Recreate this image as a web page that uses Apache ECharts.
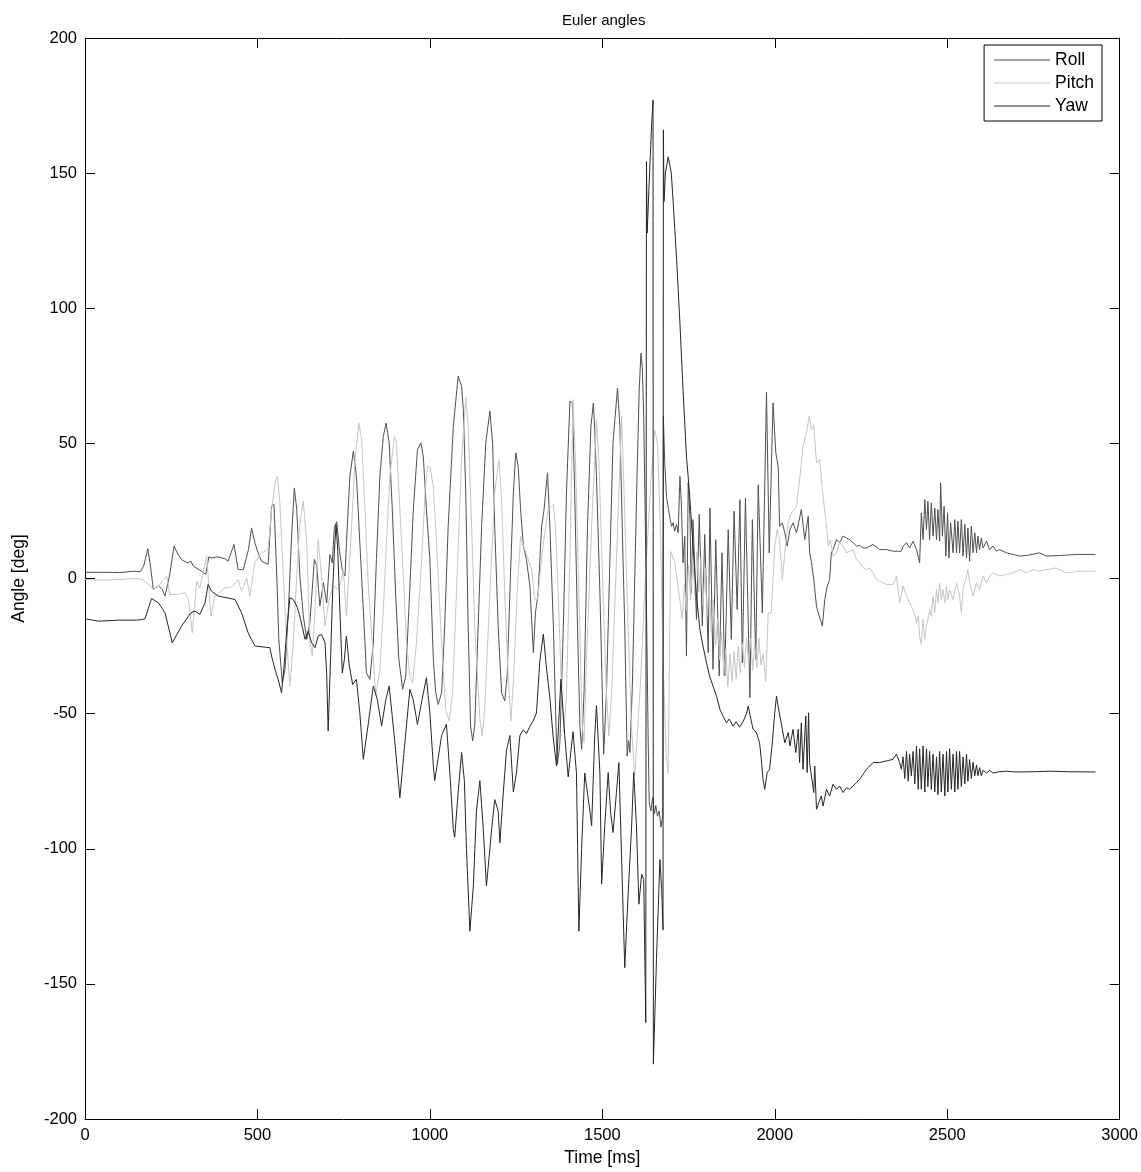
<!DOCTYPE html>
<html>
<head>
<meta charset="utf-8">
<script src="https://cdn.jsdelivr.net/npm/echarts@6/dist/echarts.min.js"></script>
<style>html,body{margin:0;padding:0;background:#fff}#c{width:1141px;height:1172px}</style>
</head>
<body>
<div id="c"></div>
<script>
const titleText = 'Euler angles';
const xName = 'Time [ms]';
const yName = 'Angle [deg]';
const seriesNames = ['Roll', 'Pitch', 'Yaw'];

const rollData = [[0,2.3],[50,2.3],[100,2.2],[140,2.7],[160,2.5],[170,4.6],[182,11],[190,4.6],[198,-4.1],[213,-2.6],[224,-4.1],[232,-6.5],[245,0.9],[258,11.9],[270,8.9],[280,7],[297,5.8],[307,6.4],[314,4.6],[319,3.9],[338,2.7],[350,1.5],[359,8],[367,7.6],[386,8],[406,7.3],[415,6.4],[432,12.6],[444,3.3],[459,3.3],[474,10.7],[483,18.7],[493,13],[502,9.5],[512,6.4],[531,5.2],[541,26.7],[548,27.4],[556,0.9],[562,-22.5],[572,-38.6],[580,-33.6],[589,-13.9],[599,15.7],[607,33.5],[614,25.5],[623,0.9],[633,-13.9],[643,-22.5],[652,-16.4],[665,7],[672,4.6],[681,-10.2],[691,-1.6],[701,-9],[710,8.9],[717,5.8],[723,19],[730,21],[738,10],[746,3.3],[754,0.9],[758,13],[768,37.8],[778,47.1],[787,37.8],[797,13],[807,-11.5],[816,-34.9],[826,-37.3],[836,-23.8],[845,7],[855,37.8],[865,52.6],[873,57.5],[882,50.2],[891,25.5],[901,-6.5],[910,-29.9],[921,-41],[930,-36.1],[939,-11.5],[952,25.5],[964,47.7],[974,50.2],[981,45],[990,25.5],[1000,7],[1010,-30],[1017,-42.3],[1024,-46.6],[1034,-42.3],[1043,-17.6],[1053,19.3],[1068,56.3],[1082,74.8],[1092,71.1],[1097,62.5],[1104,31.7],[1111,-17.6],[1118,-54.6],[1124,-60.1],[1130,-54.6],[1140,-17.6],[1150,19.3],[1162,50.2],[1174,61.9],[1182,50.2],[1188,19.3],[1198,-17.6],[1208,-42.3],[1217,-45.3],[1224,-36.1],[1232,-5.3],[1242,31.7],[1249,46.5],[1256,41.5],[1263,25.5],[1271,12],[1280,7],[1290,-2.8],[1300,-27.5],[1306,-12.7],[1314,-5.3],[1324,19.3],[1331,25.5],[1341,39.1],[1348,19.3],[1358,-17.6],[1367,-60.8],[1370,-68.8],[1377,-60.8],[1387,-17.6],[1396,31.7],[1406,65.6],[1413,64.9],[1420,31.7],[1428,-17.6],[1435,-54.6],[1440,-63.2],[1447,-42.3],[1457,19.3],[1467,56.3],[1474,64.9],[1478,55.1],[1483,37.8],[1493,-5.3],[1500,-42.3],[1504,-65],[1512,-42.3],[1522,7],[1531,50.2],[1544,70.5],[1551,56.3],[1560,7],[1565,-17.6],[1572,-65.7],[1576,-60],[1580,-64.4],[1587,-40],[1594,0],[1601,40],[1607,70],[1612,83.4],[1616,78],[1620,60],[1627,0],[1633,-60],[1636,-83],[1641,-86],[1646,-81],[1651,-87],[1655,-84],[1660,-88],[1665,-86],[1670,-92],[1675,-88],[1677,60],[1681,42.7],[1686,30.4],[1695,23],[1701,19.3],[1705,20.6],[1710,17.5],[1715,20],[1720,16.9],[1725,37.8],[1729,28],[1734,5.8],[1739,15.6],[1744,-28.7],[1749,35.4],[1754,23],[1758,-5.3],[1763,21.8],[1773,-15.2],[1781,23.7],[1790,-17.6],[1797,16.3],[1807,-27.5],[1812,26.1],[1821,-33.6],[1829,14.4],[1839,-36.1],[1847,9.5],[1855,-36.1],[1865,18.1],[1874,-22.5],[1882,24.9],[1891,-11.5],[1899,29.2],[1906,-31.2],[1915,29.8],[1928,-44.1],[1935,21.8],[1945,-29.9],[1952,34.7],[1964,-12.7],[1976,69],[1984,9.5],[1995,65],[2003,46.5],[2010,41.5],[2014,19.3],[2022,20.6],[2029,16.9],[2036,12],[2044,18.1],[2053,20.6],[2063,16.9],[2077,25.5],[2087,14.4],[2097,23],[2101,9.5],[2106,6.4],[2113,-0.4],[2121,-10.2],[2126,-12.7],[2132,-15.2],[2138,-17.6],[2145,-7.8],[2152,-2.8],[2159,-0.4],[2164,9.5],[2169,10.7],[2179,14.4],[2188,13.2],[2198,15.7],[2208,15],[2217,14.4],[2227,13.2],[2237,12],[2246,12.3],[2256,11.3],[2266,11.3],[2285,12.6],[2304,10.7],[2324,10.7],[2343,10.1],[2367,10.1],[2372,12],[2382,13.2],[2391,11.3],[2401,13.8],[2411,10.7],[2420,5.8],[2425,24.3],[2430,14.4],[2435,29.2],[2440,18.1],[2444,28.6],[2449,14.4],[2454,28],[2459,15.7],[2464,26.1],[2469,14.4],[2473,25.5],[2478,13.8],[2481,35.4],[2486,15.7],[2491,26.7],[2496,8.3],[2501,24.3],[2505,7.6],[2510,20.6],[2517,9.5],[2522,21.8],[2527,9.5],[2531,21.2],[2536,9.5],[2541,21.8],[2546,8.3],[2551,20],[2556,7.6],[2560,18.7],[2565,6.4],[2570,19.4],[2575,9.5],[2580,16.9],[2585,9.5],[2589,15.7],[2594,10.7],[2599,15],[2604,11.3],[2614,13.8],[2623,10.7],[2633,12],[2643,10.1],[2652,10.7],[2672,9.5],[2691,8.9],[2710,8.3],[2730,8.5],[2768,9.5],[2787,8.3],[2826,8.5],[2874,8.9],[2930,8.9]];

const pitchData = [[0,-0.4],[50,-0.6],[100,-0.4],[130,-0.1],[155,0],[169,-0.6],[184,-2.2],[198,-4.1],[217,-2.2],[237,0.9],[246,-5.9],[266,-5.9],[290,-5.3],[300,-7.8],[311,-20.1],[324,-1],[333,-3.5],[353,8.3],[365,-13.9],[377,-6.5],[406,-3.5],[425,-3.1],[444,-0.4],[454,-4.7],[469,0.2],[478,-6.5],[493,6],[512,9.5],[531,10.7],[541,25.5],[553,36.6],[558,37.8],[565,28],[575,0.9],[585,-23.8],[594,-39.8],[604,-23.8],[614,0.9],[623,20.6],[633,28.6],[643,13.2],[652,-23.8],[659,-28.7],[667,-11.5],[676,14.4],[686,0.9],[696,-17.6],[707,-8.4],[720,-2.8],[732,-4],[742,-1.6],[749,3.3],[758,-13.9],[773,19.3],[783,44],[794,57.5],[802,51.4],[812,25.5],[821,-1.6],[833,-23.8],[843,-43.5],[855,-33.6],[865,-11.5],[874,13.2],[884,37.8],[897,52.6],[903,50.2],[913,25.5],[923,0.9],[932,-23.8],[942,-36.1],[950,-38.6],[961,-23.8],[976,7],[986,31.7],[993,41.5],[1000,41.5],[1010,34.1],[1019,13.2],[1034,-23.8],[1046,-48.4],[1056,-52.7],[1066,-42.3],[1077,-5.3],[1092,44],[1104,66.8],[1111,56.3],[1121,19.3],[1130,-17.6],[1145,-52.1],[1152,-58.3],[1159,-48.4],[1174,-5.3],[1188,31.7],[1200,44],[1208,29.2],[1217,-5.3],[1227,-36.1],[1235,-52.7],[1243,-36.1],[1253,-5.3],[1263,15.6],[1271,12],[1280,9],[1295,3.3],[1304,-7.8],[1312,-7.8],[1319,0.9],[1329,13.2],[1343,25.5],[1358,27.4],[1364,19.3],[1372,-5.3],[1382,-42.3],[1389,-57],[1396,-42.3],[1406,7],[1415,66.2],[1422,44],[1432,-5.3],[1442,-54.6],[1447,-60.8],[1454,-29.9],[1469,19.3],[1483,58.8],[1490,44],[1502,-5.3],[1512,-42.3],[1519,-58.3],[1527,-42.3],[1541,7],[1556,60],[1563,31.7],[1575,-18.9],[1585,-55.8],[1594,-73],[1610,-40],[1625,0],[1640,35],[1652,55],[1660,50],[1668,20],[1676,-30],[1685,-65],[1691,-72],[1698,10],[1710,6],[1725,-8],[1732,-15],[1738,-2],[1744,-12],[1750,5],[1756,-8],[1762,8],[1768,-6],[1774,10],[1780,-5],[1786,8],[1792,-10],[1798,4],[1804,-14],[1810,-2],[1816,-20],[1822,-8],[1828,-25],[1834,-15],[1840,-30],[1846,-20],[1852,-36],[1858,-26],[1864,-40],[1870,-28],[1876,-38],[1882,-27],[1888,-37],[1894,-25],[1900,-35],[1906,-24],[1912,-33],[1918,-22],[1924,-31],[1930,-22],[1936,-34],[1942,-24],[1948,-33],[1954,-22],[1960,-32],[1966,-28],[1974,-38],[1981,-12.7],[1990,-12.7],[2000,11.9],[2007,18.1],[2014,14.4],[2022,-0.4],[2029,9.5],[2039,20.6],[2048,24.3],[2063,26.7],[2072,36.6],[2082,48.9],[2092,53.9],[2100,60],[2106,55.1],[2113,56.9],[2121,42.8],[2130,44],[2140,30.4],[2150,19.3],[2155,11.9],[2161,14.4],[2169,8.3],[2179,9.5],[2188,13.2],[2198,12],[2208,9.5],[2227,10.7],[2237,7],[2246,6],[2256,4],[2266,3.3],[2275,3.9],[2285,2.1],[2295,-0.4],[2304,-1],[2324,-2.2],[2343,-2.2],[2353,0.9],[2362,-9],[2372,-2.8],[2382,-6.5],[2391,-9],[2401,-11.5],[2411,-16.4],[2416,-13.9],[2420,-21.3],[2425,-24.4],[2430,-15.2],[2435,-22.5],[2440,-17.6],[2444,-15.2],[2449,-11.5],[2454,-13.9],[2459,-6.5],[2464,-12.7],[2469,-4],[2473,-9],[2478,-1.6],[2483,-7.8],[2488,-4],[2493,-9],[2498,-2.8],[2502,-7.8],[2507,-4],[2517,-7.8],[2527,-1.6],[2536,-6.5],[2541,-12.7],[2546,-4],[2556,0.9],[2560,3.3],[2565,-1.6],[2575,-6.5],[2585,-1.6],[2594,-4],[2604,0.9],[2614,-1.6],[2623,0.9],[2633,2.1],[2652,0.9],[2672,1.5],[2691,2.1],[2710,3.3],[2730,2.1],[2749,3.3],[2768,2.7],[2787,3.3],[2816,3.9],[2845,2.1],[2884,2.7],[2930,2.7]];

const yawData = [[0,-14.9],[40,-15.8],[100,-15.4],[150,-15.4],[164,-15.2],[174,-14.9],[193,-7.4],[213,-9],[232,-12.7],[253,-23.8],[280,-17.6],[307,-12.7],[319,-12.1],[333,-13.3],[348,-9],[357,-2.2],[367,-4.7],[386,-6.5],[415,-7.2],[435,-7.8],[454,-12.7],[473,-20.1],[483,-22.6],[493,-25],[522,-25.4],[536,-25.6],[541,-28.7],[551,-33.6],[560,-37.3],[570,-42.3],[578,-31.2],[585,-18.9],[594,-7.1],[604,-7.8],[614,-10.2],[623,-13.9],[638,-22.5],[647,-19.5],[657,-23.8],[667,-25.6],[676,-21.3],[686,-20.7],[696,-23.8],[701,-36.1],[705,-56.4],[712,-30],[718,-5],[723,10],[728,20],[733,10],[740,-15],[746,-35],[752,-30],[758,-21.3],[766,-32],[776,-39.2],[787,-37.3],[797,-50],[807,-66.9],[820,-55],[836,-39.8],[848,-45],[860,-54.6],[872,-45],[882,-39.8],[898,-60],[913,-81.1],[928,-60],[942,-41],[952,-45],[964,-54],[977,-45],[990,-36.7],[1000,-49.8],[1010,-69.3],[1014,-74.8],[1024,-66.5],[1034,-58.1],[1048,-53.9],[1058,-72],[1068,-92.9],[1072,-95.7],[1082,-79],[1092,-64.4],[1100,-74.8],[1106,-99.9],[1116,-130.5],[1126,-113.8],[1135,-86],[1145,-74.8],[1155,-92.9],[1164,-113.8],[1169,-113.8],[1179,-92.9],[1188,-81.8],[1198,-86],[1203,-97.8],[1213,-79],[1222,-63.7],[1232,-58.1],[1242,-79],[1251,-72],[1261,-58.1],[1271,-56],[1280,-57.4],[1290,-54.7],[1300,-52.6],[1309,-49.8],[1319,-30.3],[1329,-20.6],[1338,-33.1],[1348,-44.2],[1357,-58.1],[1367,-69.3],[1380,-37.3],[1391,-58.1],[1401,-73.4],[1415,-56.7],[1425,-72],[1432,-130.5],[1440,-99.9],[1449,-72],[1454,-71.3],[1464,-86],[1469,-91.5],[1478,-58.1],[1483,-47],[1493,-72],[1498,-113.1],[1507,-91.6],[1517,-71.8],[1524,-86.6],[1531,-94],[1541,-79.2],[1548,-68.1],[1556,-103.9],[1565,-144],[1575,-116.2],[1585,-91.6],[1591,-71.8],[1599,-91.6],[1606,-120.5],[1614,-109.4],[1620,-111.3],[1626,-164.3],[1628,154.3],[1630,127.8],[1637,150],[1643,168],[1647,177.1],[1648,-179.7],[1657,-140.9],[1667,-104],[1672,-115],[1676,-130],[1677,166],[1679,139.5],[1683,150],[1691,156],[1700,150],[1705,140],[1715,119],[1725,94.5],[1734,70],[1744,45],[1752,33],[1763,12],[1773,-6.5],[1783,-19],[1792,-25],[1802,-31.2],[1811,-36.1],[1821,-39.8],[1831,-43.5],[1841,-48.4],[1850,-50.9],[1860,-53.4],[1868,-52],[1879,-54.6],[1888,-53],[1898,-55],[1908,-53],[1918,-50],[1923,-47.2],[1927,-49.7],[1937,-55.8],[1947,-57],[1956,-60.8],[1961,-66.9],[1966,-74.3],[1971,-78],[1978,-71.8],[1985,-70.6],[1992,-62],[2000,-49.7],[2005,-43.5],[2013,-49.7],[2022,-55.8],[2029,-60.8],[2039,-57],[2044,-62],[2053,-55.8],[2061,-64.4],[2068,-55.8],[2072,-68.1],[2077,-53.4],[2082,-70.6],[2090,-50.9],[2094,-71.8],[2098,-49.7],[2101,-68.1],[2106,-68.1],[2113,-79.2],[2116,-69.4],[2121,-85.4],[2128,-82.9],[2135,-80.5],[2140,-84.2],[2150,-78],[2159,-80.5],[2169,-76.1],[2179,-78],[2188,-76.8],[2198,-79.2],[2208,-77.4],[2217,-78],[2227,-76.8],[2237,-75.5],[2246,-74.3],[2266,-70.6],[2285,-68.1],[2304,-68.1],[2324,-67.5],[2343,-66.9],[2353,-65],[2362,-68.1],[2367,-70.6],[2372,-66],[2377,-74],[2382,-64],[2387,-75],[2391,-65],[2396,-73],[2401,-64],[2406,-76],[2411,-62],[2416,-78],[2420,-63],[2425,-78],[2430,-62],[2435,-79],[2440,-63],[2444,-77],[2449,-64],[2454,-78],[2459,-65],[2464,-79],[2469,-66],[2473,-80],[2478,-64],[2483,-79],[2488,-65],[2493,-80.5],[2498,-64],[2502,-79],[2507,-63],[2512,-78],[2517,-65],[2522,-79],[2527,-64],[2531,-78],[2536,-64],[2541,-77],[2546,-66],[2551,-76],[2556,-65],[2560,-75],[2565,-67],[2570,-74],[2575,-68],[2580,-73],[2585,-69],[2589,-73],[2594,-70],[2599,-73],[2604,-71],[2614,-72],[2623,-71],[2633,-72],[2652,-71.5],[2672,-71.3],[2700,-71.6],[2750,-71.5],[2800,-71.3],[2850,-71.5],[2930,-71.6]];

const xMin = 0, xMax = 3000, xStep = 500;
const yMin = -200, yMax = 200, yStep = 50;
const colors = ['#505050', '#c6c6c6', '#262626'];

const FONT = "'Liberation Sans', Arial, Helvetica, sans-serif";
const chart = echarts.init(document.getElementById('c'), null, {renderer: 'canvas'});

function axisBase(extra) {
  return Object.assign({
    type: 'value',
    axisLine: {show: true, onZero: false, lineStyle: {color: '#000', width: 1}},
    axisTick: {show: true, inside: true, length: 10, lineStyle: {color: '#000', width: 1}},
    splitLine: {show: false}
  }, extra);
}
const plainLabel = v => String(v);

const option = {
  animation: false,
  backgroundColor: '#fff',
  title: {
    text: titleText, left: 557, top: 8,
    textStyle: {fontSize: 15, fontWeight: 'normal', color: '#000', fontFamily: FONT}
  },
  grid: {left: 85, right: 21, top: 38, bottom: 52, containLabel: false},
  legend: {
    data: seriesNames, orient: 'vertical', right: 39, top: 45,
    icon: 'rect', itemWidth: 56, itemHeight: 1, itemGap: 5,
    padding: [6, 8, 6, 10],
    borderColor: '#000', borderWidth: 1, backgroundColor: '#fff',
    textStyle: {fontSize: 17.5, color: '#000', fontFamily: FONT, lineHeight: 18}
  },
  xAxis: [
    axisBase({min: xMin, max: xMax, interval: xStep, position: 'bottom',
      name: xName, nameLocation: 'middle', nameGap: 30,
      nameTextStyle: {fontSize: 17.5, color: '#000', fontFamily: FONT},
      axisLabel: {color: '#000', fontSize: 16.5, fontFamily: FONT, margin: 8, formatter: plainLabel}}),
    axisBase({min: xMin, max: xMax, interval: xStep, position: 'top', axisLabel: {show: false}})
  ],
  yAxis: [
    axisBase({min: yMin, max: yMax, interval: yStep, position: 'left',
      name: yName, nameLocation: 'middle', nameGap: 57, nameRotate: 90,
      nameTextStyle: {fontSize: 17.5, color: '#000', fontFamily: FONT},
      axisLabel: {color: '#000', fontSize: 16.5, fontFamily: FONT, margin: 8, formatter: plainLabel}}),
    axisBase({min: yMin, max: yMax, interval: yStep, position: 'right', axisLabel: {show: false}})
  ],
  series: [
    {name: seriesNames[0], type: 'line', data: rollData, color: colors[0]},
    {name: seriesNames[1], type: 'line', data: pitchData, color: colors[1]},
    {name: seriesNames[2], type: 'line', data: yawData, color: colors[2]}
  ].map(s => Object.assign(s, {
    xAxisIndex: 0, yAxisIndex: 0, showSymbol: false, symbol: 'none',
    lineStyle: {width: 1, color: s.color}, itemStyle: {color: s.color}, silent: true
  }))
};
chart.setOption(option);
</script>
</body>
</html>
